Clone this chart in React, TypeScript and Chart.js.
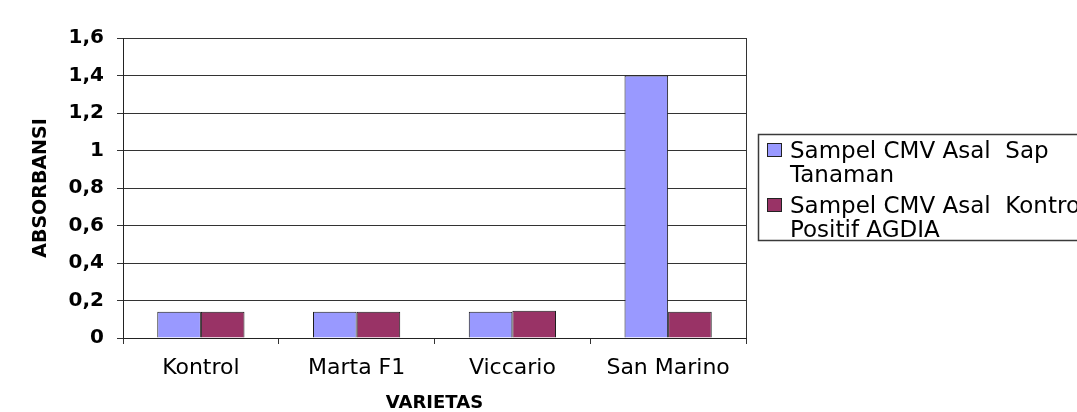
import { useEffect, useRef } from 'react';
import { Chart, registerables } from 'chart.js';

Chart.register(...registerables);

// Varieties on the category axis
const categories = ['Kontrol', 'Marta F1', 'Viccario', 'San Marino'];

// Absorbance readings per variety
const sapValues = [0.14, 0.14, 0.14, 1.4];
const agdiaValues = [0.14, 0.14, 0.145, 0.14];

// Series names, split over two lines as shown in the legend
const sapLabelLines = ['Sampel CMV Asal  Sap', 'Tanaman'];
const agdiaLabelLines = ['Sampel CMV Asal  Kontrol', 'Positif AGDIA'];

const sapColor = '#9999FF';
const agdiaColor = '#993366';

// Y axis labels use a decimal comma
const yTickLabels = ['0', '0,2', '0,4', '0,6', '0,8', '1', '1,2', '1,4', '1,6'];

const xTitle = 'VARIETAS';
const yTitle = 'ABSORBANSI';

const FONT = '"DejaVu Sans", Verdana, sans-serif';

// Boxed legend to the right of the plot, with wrapped series names
const sideLegend = {
  id: 'sideLegend',
  afterDraw(chart: any) {
    const { ctx, chartArea } = chart;
    const lines = [sapLabelLines, agdiaLabelLines];
    const left = chartArea.right + 12;
    const top = chartArea.top + 96;
    const height = 106;
    ctx.save();
    ctx.fillStyle = '#ffffff';
    ctx.fillRect(left, top, chart.width - left + 10, height);
    ctx.strokeStyle = '#3a3a3a';
    ctx.lineWidth = 1.5;
    ctx.strokeRect(left + 0.5, top + 0.5, chart.width, height);
    ctx.font = `23px ${FONT}`;
    ctx.textBaseline = 'alphabetic';
    ctx.textAlign = 'left';
    chart.data.datasets.forEach((ds: any, i: number) => {
      const itemTop = top + 9 + i * 55;
      ctx.fillStyle = ds.backgroundColor;
      ctx.fillRect(left + 9, itemTop, 15, 14);
      ctx.strokeStyle = '#222';
      ctx.lineWidth = 1;
      ctx.strokeRect(left + 9.5, itemTop + 0.5, 14, 13);
      ctx.fillStyle = '#000';
      lines[i].forEach((line: string, j: number) => {
        ctx.fillText(line, left + 32, itemTop + 15 + j * 23.5);
      });
    });
    ctx.restore();
  },
};

// Right edge of the plot frame
const plotFrame = {
  id: 'plotFrame',
  afterDatasetsDraw(chart: any) {
    const { ctx, chartArea } = chart;
    ctx.save();
    ctx.strokeStyle = '#333';
    ctx.lineWidth = 1;
    const x = Math.round(chartArea.right) + 0.5;
    ctx.beginPath();
    ctx.moveTo(x, chartArea.top);
    ctx.lineTo(x, chartArea.bottom);
    ctx.stroke();
    ctx.restore();
  },
};

export default function App() {
  const canvasRef = useRef<HTMLCanvasElement | null>(null);

  useEffect(() => {
    if (!canvasRef.current) return;
    Chart.defaults.font.family = FONT;
    const chart = new Chart(canvasRef.current, {
      type: 'bar',
      data: {
        labels: categories,
        datasets: [
          {
            label: sapLabelLines.join(' '),
            data: sapValues,
            backgroundColor: sapColor,
            borderColor: '#1a1a1a',
            borderWidth: 1,
            categoryPercentage: 0.56,
            barPercentage: 1,
          },
          {
            label: agdiaLabelLines.join(' '),
            data: agdiaValues,
            backgroundColor: agdiaColor,
            borderColor: '#1a1a1a',
            borderWidth: 1,
            categoryPercentage: 0.56,
            barPercentage: 1,
          },
        ],
      },
      options: {
        animation: false,
        responsive: true,
        maintainAspectRatio: false,
        layout: { padding: { left: 30, right: 331, top: 38, bottom: 0 } },
        plugins: {
          legend: { display: false },
          tooltip: { enabled: false },
        },
        scales: {
          x: {
            grid: {
              offset: true,
              drawOnChartArea: false,
              drawTicks: true,
              tickLength: 6,
              color: '#333',
            },
            border: { display: true, color: '#222', width: 1 },
            ticks: {
              color: '#000',
              font: { size: 22 },
              padding: 11,
              maxRotation: 0,
              autoSkip: false,
            },
            title: {
              display: true,
              text: xTitle,
              color: '#000',
              font: { size: 18, weight: 'bold', lineHeight: 1 },
              padding: 0,
            },
            afterFit: (s: any) => {
              s.height = 74;
            },
          },
          y: {
            min: 0,
            max: 1.6,
            ticks: {
              stepSize: 0.2,
              color: '#000',
              font: { size: 20, weight: 'bold' },
              padding: 13,
              callback: (_v: any, i: number) => yTickLabels[i],
            },
            grid: { color: '#333', tickLength: 6 },
            border: { color: '#222', width: 1 },
            title: {
              display: true,
              text: yTitle,
              color: '#000',
              font: { size: 19, weight: 'bold', lineHeight: 1.2 },
              padding: 0,
            },
            afterFit: (s: any) => {
              s.width = 93;
            },
          },
        },
      },
      plugins: [plotFrame, sideLegend],
    });
    return () => chart.destroy();
  }, []);

  return (
    <div style={{ position: 'absolute', left: 0, top: 0, width: 1077, height: 412, background: '#fff' }}>
      <canvas ref={canvasRef} />
    </div>
  );
}
